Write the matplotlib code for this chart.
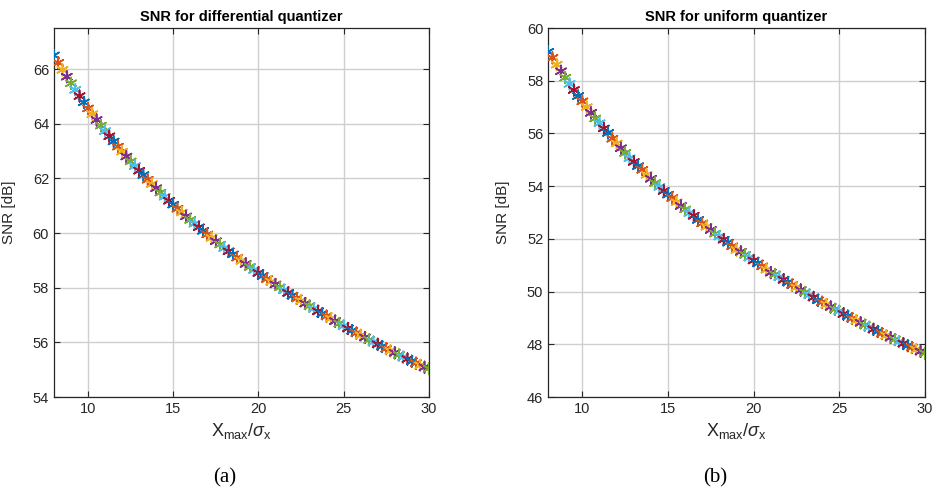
import matplotlib
matplotlib.use("Agg")

import matplotlib.pyplot as plt

# x values (Xmax / sigma_x) shared by both panels
x_ratio = [8.0, 8.25, 8.5, 8.75, 9.0, 9.25, 9.5, 9.75, 10.0, 10.25, 10.5, 10.75,
           11.0, 11.25, 11.5, 11.75, 12.0, 12.25, 12.5, 12.75, 13.0, 13.25, 13.5, 13.75,
           14.0, 14.25, 14.5, 14.75, 15.0, 15.25, 15.5, 15.75, 16.0, 16.25, 16.5, 16.75,
           17.0, 17.25, 17.5, 17.75, 18.0, 18.25, 18.5, 18.75, 19.0, 19.25, 19.5, 19.75,
           20.0, 20.25, 20.5, 20.75, 21.0, 21.25, 21.5, 21.75, 22.0, 22.25, 22.5, 22.75,
           23.0, 23.25, 23.5, 23.75, 24.0, 24.25, 24.5, 24.75, 25.0, 25.25, 25.5, 25.75,
           26.0, 26.25, 26.5, 26.75, 27.0, 27.25, 27.5, 27.75, 28.0, 28.25, 28.5, 28.75,
           29.0, 29.25, 29.5, 29.75, 30.0]

# SNR [dB], differential quantizer
snr_diff = [66.50, 66.23, 65.97, 65.72, 65.48, 65.24, 65.01, 64.78, 64.56, 64.35, 64.14, 63.93,
            63.73, 63.54, 63.35, 63.16, 62.98, 62.80, 62.62, 62.45, 62.28, 62.12, 61.95, 61.79,
            61.64, 61.48, 61.33, 61.18, 61.04, 60.89, 60.75, 60.61, 60.48, 60.34, 60.21, 60.08,
            59.95, 59.82, 59.70, 59.58, 59.45, 59.33, 59.22, 59.10, 58.98, 58.87, 58.76, 58.65,
            58.54, 58.43, 58.32, 58.22, 58.12, 58.01, 57.91, 57.81, 57.71, 57.61, 57.52, 57.42,
            57.33, 57.23, 57.14, 57.05, 56.96, 56.87, 56.78, 56.69, 56.60, 56.51, 56.43, 56.34,
            56.26, 56.18, 56.09, 56.01, 55.93, 55.85, 55.77, 55.69, 55.62, 55.54, 55.46, 55.39,
            55.31, 55.24, 55.16, 55.09, 55.04]

# SNR [dB], uniform quantizer
snr_unif = [59.10, 58.87, 58.61, 58.36, 58.12, 57.88, 57.65, 57.42, 57.22, 57.00, 56.78, 56.57,
            56.39, 56.19, 56.02, 55.80, 55.62, 55.44, 55.26, 55.06, 54.92, 54.76, 54.62, 54.43,
            54.28, 54.12, 53.97, 53.82, 53.68, 53.55, 53.39, 53.25, 53.12, 52.98, 52.88, 52.72,
            52.59, 52.46, 52.34, 52.20, 52.09, 51.97, 51.86, 51.72, 51.58, 51.51, 51.40, 51.29,
            51.18, 51.07, 50.96, 50.83, 50.72, 50.65, 50.55, 50.45, 50.35, 50.25, 50.16, 50.06,
            49.97, 49.87, 49.78, 49.67, 49.60, 49.51, 49.42, 49.33, 49.26, 49.15, 49.07, 48.98,
            48.90, 48.82, 48.73, 48.65, 48.57, 48.49, 48.41, 48.33, 48.26, 48.18, 48.10, 48.03,
            47.95, 47.88, 47.80, 47.73, 47.66]

# MATLAB default colour order
matlab_colors = ["#0072BD", "#D95319", "#EDB120", "#7E2F8E", "#77AC30", "#4DBEEE", "#A2142F"]

plt.rcParams["font.family"] = ["Liberation Sans", "DejaVu Sans"]
plt.rcParams["mathtext.fontset"] = "custom"
plt.rcParams["mathtext.rm"] = "Liberation Sans"
plt.rcParams["mathtext.it"] = "Liberation Sans:italic"

fig = plt.figure(figsize=(9.37, 4.92), dpi=100)
ax_a = fig.add_axes([0.0576, 0.193, 0.400, 0.750])
ax_b = fig.add_axes([0.585, 0.193, 0.402, 0.750])

panels = [
    (ax_a, snr_diff, "SNR for differential quantizer", (54, 67.5), range(54, 67, 2)),
    (ax_b, snr_unif, "SNR for uniform quantizer", (46, 60), range(46, 61, 2)),
]

for ax, snr, title, ylim, yticks in panels:
    colors = [matlab_colors[i % len(matlab_colors)] for i in range(len(x_ratio))]
    ax.scatter(x_ratio, snr, marker=(6, 2, 0), s=70, c=colors, linewidths=1.2, zorder=3)

    ax.set_xlim(8, 30)
    ax.set_ylim(*ylim)
    ax.set_xticks([10, 15, 20, 25, 30])
    ax.set_yticks(list(yticks))

    ax.grid(True, color="#cfcfcf", linewidth=1.0)
    ax.set_axisbelow(True)
    for sp in ax.spines.values():
        sp.set_color("#262626")
        sp.set_linewidth(0.9)
    ax.tick_params(direction="in", length=4, width=0.8, colors="#262626",
                   labelsize=10.5, top=True, right=True)

    ax.set_title(title, fontsize=10.5, fontweight="bold", pad=5)
    ax.set_xlabel(r"$\mathrm{X}_{\mathrm{max}}/\sigma_{\mathrm{x}}$", fontsize=13, color="#262626")
    ax.set_ylabel("SNR [dB]", fontsize=11, color="#262626")
    ax.yaxis.set_label_coords(-0.10, 0.5)

fig.text(0.240, 0.028, "(a)", family="Liberation Serif", fontsize=15, ha="center", va="center")
fig.text(0.763, 0.028, "(b)", family="Liberation Serif", fontsize=15, ha="center", va="center")

fig.savefig("out.png", dpi=100)
plt.close(fig)
